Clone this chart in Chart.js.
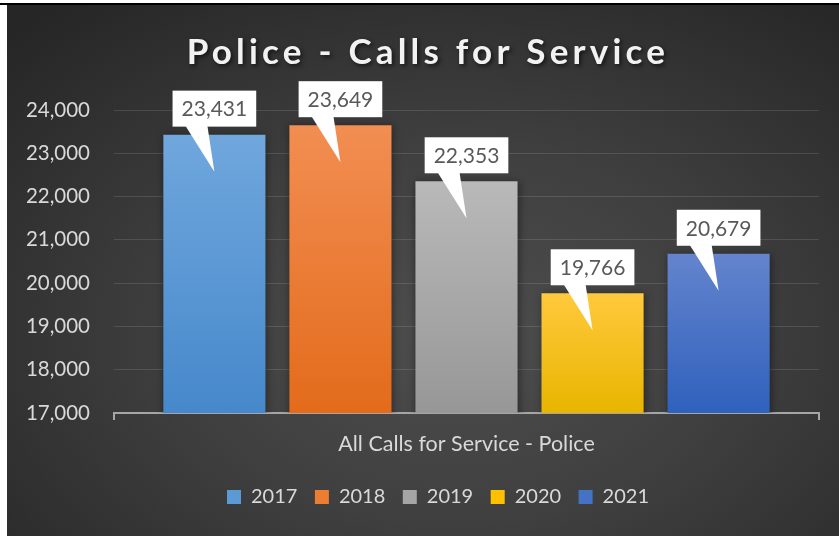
<!DOCTYPE html>
<html>
<head>
<meta charset="utf-8">
<script src="https://cdn.jsdelivr.net/npm/chart.js@4.4.1/dist/chart.umd.min.js"></script>
<style>
  html, body { margin: 0; padding: 0; background: #ffffff; width: 839px; height: 536px; overflow: hidden; }
  #topline { position: absolute; left: 0; top: 3px; width: 839px; height: 2px; background: #000; }
  #wrap { position: absolute; left: 7px; top: 5px; width: 832px; height: 531px;
    background: radial-gradient(ellipse 75% 80% at 54% 62%, #4e4e4e 0%, #3f3f3f 45%, #262626 100%); }
  canvas { display: block; }
</style>
</head>
<body>
<div id="topline"></div>
<div id="wrap"><canvas id="c" width="832" height="531"></canvas></div>
<script>
// ---- data ----
const categories = ['All Calls for Service - Police'];
const seriesNames = ['2017', '2018', '2019', '2020', '2021'];
const seriesValues = [23431, 23649, 22353, 19766, 20679];
const yMin = 17000;
const yMax = 24000;
const yStep = 1000;
const chartTitle = 'Police - Calls for Service';

// ---- styles ----
const midColors = ['#5b9bd5', '#ed7d31', '#a5a5a5', '#ffc000', '#4472c4'];
const topColors = ['#70a7dd', '#f28e52', '#b9b9b9', '#ffc93d', '#6484cd'];
const botColors = ['#4688cb', '#e36b1b', '#979797', '#e8b500', '#2f61bd'];
const FONT = 'Lato, "Open Sans", sans-serif';

function barGradient(i) {
  return function (ctx) {
    const chart = ctx.chart;
    const area = chart.chartArea;
    if (!area || ctx.raw == null || !chart.scales.y) return midColors[i];
    const yS = chart.scales.y;
    const top = yS.getPixelForValue(ctx.raw);
    const bottom = yS.getPixelForValue(yS.min);
    if (!isFinite(top) || !isFinite(bottom)) return midColors[i];
    const g = chart.ctx.createLinearGradient(0, top, 0, bottom);
    g.addColorStop(0, topColors[i]);
    g.addColorStop(1, botColors[i]);
    return g;
  };
}

const datasets = seriesNames.map((name, i) => ({
  label: name,
  data: [seriesValues[i]],
  backgroundColor: barGradient(i),
  borderWidth: 0,
  categoryPercentage: 0.894,
  barPercentage: 0.81
}));

// shadows on bars + callout data labels
const calloutPlugin = {
  id: 'callouts',
  beforeDatasetsDraw(chart) {
    const c = chart.ctx;
    c.save();
    c.shadowColor = 'rgba(0,0,0,0.45)';
    c.shadowBlur = 8;
    c.shadowOffsetX = 1;
    c.shadowOffsetY = 1;
  },
  afterDatasetsDraw(chart) {
    const c = chart.ctx;
    c.restore();
    c.save();
    c.font = '21px ' + FONT;
    c.textAlign = 'center';
    c.textBaseline = 'middle';
    chart.data.datasets.forEach((ds, di) => {
      const meta = chart.getDatasetMeta(di);
      meta.data.forEach((bar, j) => {
        const v = ds.data[j];
        const txt = v.toLocaleString('en-US');
        const cx = bar.x;
        const topY = bar.y;
        const w = c.measureText(txt).width + 18;
        const h = 36;
        const bottom = topY - 8;
        c.fillStyle = '#ffffff';
        c.beginPath();
        c.moveTo(cx - 29, bottom - 1);
        c.lineTo(cx - 7, bottom - 1);
        c.lineTo(cx, topY + 37);
        c.closePath();
        c.fill();
        c.fillRect(cx - w / 2, bottom - h, w, h);
        c.fillStyle = '#595959';
        c.fillText(txt, cx, bottom - h / 2 + 1);
      });
    });
    c.restore();
  }
};

// title letter spacing + shadow, and horizontal nudges of title/legend
const layoutTweaks = {
  id: 'layoutTweaks',
  afterLayout(chart) {
    if (chart.legend) { chart.legend.left += 25; chart.legend.right += 25; }
    if (chart.titleBlock) { chart.titleBlock.left += 15; chart.titleBlock.right += 15; }
    const tb = chart.titleBlock;
    if (tb && !tb._wrapped) {
      const orig = tb.draw.bind(tb);
      tb.draw = function () {
        const c = chart.ctx;
        c.save();
        try { c.letterSpacing = '4.2px'; } catch (e) {}
        c.shadowColor = 'rgba(0,0,0,0.6)';
        c.shadowBlur = 4;
        c.shadowOffsetX = 2;
        c.shadowOffsetY = 2;
        orig();
        c.restore();
      };
      tb._wrapped = true;
    }
  }
};

new Chart(document.getElementById('c'), {
  type: 'bar',
  data: { labels: categories, datasets: datasets },
  plugins: [calloutPlugin, layoutTweaks],
  options: {
    responsive: false,
    animation: false,
    layout: { padding: { left: 0, right: 20, top: 0, bottom: 19 } },
    plugins: {
      title: {
        display: true,
        text: chartTitle,
        color: '#f2f2f2',
        font: { family: FONT, size: 35, weight: 'bold' },
        padding: { top: 27, bottom: 36 }
      },
      legend: {
        position: 'bottom',
        labels: {
          color: '#d9d9d9',
          font: { family: FONT, size: 20 },
          boxWidth: 14,
          boxHeight: 14,
          padding: 17.5,
          generateLabels(chart) {
            const items = Chart.defaults.plugins.legend.labels.generateLabels(chart);
            items.forEach((it, i) => {
              it.fillStyle = midColors[i];
              it.strokeStyle = midColors[i];
              it.lineWidth = 0;
              it.fontColor = '#d9d9d9';
            });
            return items;
          }
        }
      },
      tooltip: { enabled: false }
    },
    scales: {
      x: {
        offset: true,
        grid: {
          display: true,
          offset: true,
          drawOnChartArea: false,
          drawTicks: true,
          tickLength: 7,
          color: '#a6a6a6',
          lineWidth: 2
        },
        border: { display: true, color: '#a6a6a6', width: 2 },
        ticks: { color: '#d9d9d9', font: { family: FONT, size: 21.5 }, padding: 11 },
        afterFit(scale) { scale.height = 56.5; }
      },
      y: {
        min: yMin,
        max: yMax,
        ticks: { stepSize: yStep, color: '#d9d9d9', font: { family: FONT, size: 20.5 }, padding: 24 },
        grid: { color: 'rgba(255,255,255,0.12)', lineWidth: 1, drawTicks: false },
        border: { display: false },
        afterFit(scale) { scale.width = 107; }
      }
    }
  }
});
</script>
</body>
</html>
